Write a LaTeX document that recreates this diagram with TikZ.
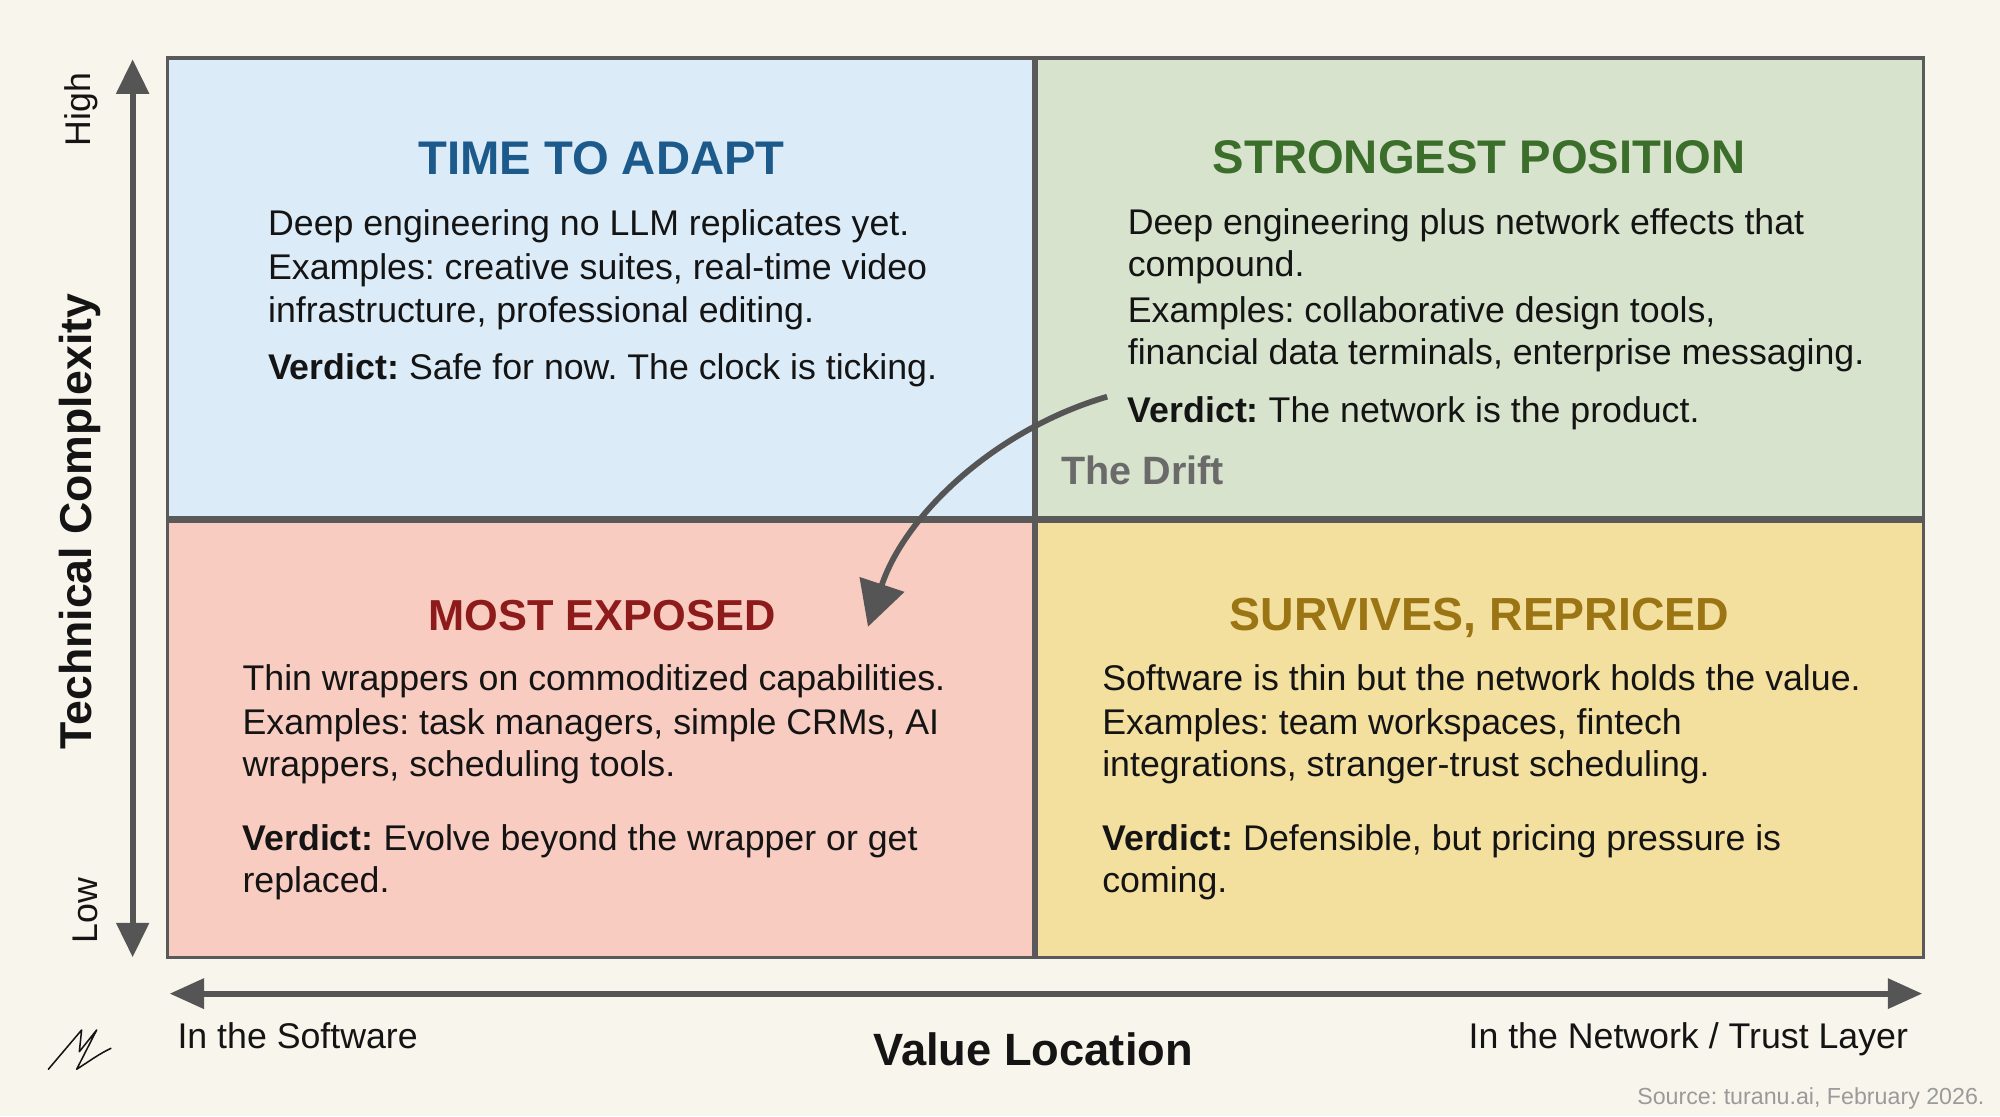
\documentclass[tikz,border=0pt]{standalone}
\usepackage{fontspec}
\setmainfont{Liberation Sans}
\usetikzlibrary{arrows.meta}
\frenchspacing
\definecolor{bgc}{HTML}{F8F6EC}
\definecolor{tlc}{HTML}{DBEBF8}
\definecolor{trc}{HTML}{D7E3CD}
\definecolor{blc}{HTML}{F8CCC1}
\definecolor{brc}{HTML}{F3DF9E}
\definecolor{tblue}{HTML}{1C5A8C}
\definecolor{tgreen}{HTML}{3C6E2B}
\definecolor{tred}{HTML}{8E1B1B}
\definecolor{tgold}{HTML}{9B7413}
\definecolor{axisc}{HTML}{555555}
\definecolor{gridc}{HTML}{5A5A5A}
\definecolor{bodyc}{HTML}{141414}
\definecolor{driftc}{HTML}{6A6A6A}
\definecolor{srcc}{HTML}{9A9A9A}
\begin{document}
\begin{tikzpicture}[x=1pt,y=-1pt,
  body/.style={anchor=base west, inner sep=0pt, text=bodyc, font=\fontsize{28}{34}\selectfont},
  ttl/.style={anchor=base, inner sep=0pt, font=\bfseries\fontsize{37}{44}\selectfont},
  axislabel/.style={inner sep=0pt, text=bodyc, font=\fontsize{28}{34}\selectfont},
  gridthin/.style={draw=gridc, line width=2.5pt},
  gridthick/.style={draw=gridc, line width=5pt},
  axisline/.style={draw=axisc, line width=4.5pt},
  driftarrow/.style={draw=axisc, line width=4.5pt, -{Triangle[length=35pt,width=36pt]}}
]
\useasboundingbox (0,0) rectangle (1568,875);
\fill[bgc] (0,0) rectangle (1568,875);

% quadrants
\fill[tlc] (131.5,45.5) rectangle (811.5,407.2);
\fill[trc] (811.5,45.5) rectangle (1508,407.2);
\fill[blc] (131.5,407.2) rectangle (811.5,750.5);
\fill[brc] (811.5,407.2) rectangle (1508,750.5);
\draw[gridthin] (131.5,45.5) rectangle (1508,750.5);
\draw[gridthick] (811.5,45.5) -- (811.5,750.5);
\draw[gridthick] (131.5,407.2) -- (1508,407.2);

% top-left
\node[ttl, text=tblue] (t1) at (471.5,136.5) {TIME TO ADAPT};
\node[body] (t1a) at (210,185) {Deep engineering no LLM replicates yet.};
\node[body] (t1b) at (210,219.5) {Examples: creative suites, real-time video};
\node[body] (t1c) at (210,253) {infrastructure, professional editing.};
\node[body] (t1d) at (210,297.5) {\textbf{Verdict:} Safe for now. The clock is ticking.};

% top-right
\node[ttl, text=tgreen] (t2) at (1159.5,136) {STRONGEST POSITION};
\node[body] (t2a) at (884,184) {Deep engineering plus network effects that};
\node[body] (t2b) at (884,217) {compound.};
\node[body] (t2c) at (884,253) {Examples: collaborative design tools,};
\node[body] (t2d) at (884,286) {financial data terminals, enterprise messaging.};
\node[body] (t2e) at (884,331) {\textbf{Verdict:} The network is the product.};
\node[anchor=base west, inner sep=0pt, text=driftc, font=\bfseries\fontsize{31}{36}\selectfont] (drift) at (832,380) {The Drift};

% bottom-left
\node[ttl, text=tred, font=\bfseries\fontsize{34}{40}\selectfont] (t3) at (472,494) {MOST EXPOSED};
\node[body] (t3a) at (190,541) {Thin wrappers on commoditized capabilities.};
\node[body] (t3b) at (190,576) {Examples: task managers, simple CRMs, AI};
\node[body] (t3c) at (190,609) {wrappers, scheduling tools.};
\node[body] (t3d) at (190,666.5) {\textbf{Verdict:} Evolve beyond the wrapper or get};
\node[body] (t3e) at (190,700) {replaced.};

% bottom-right
\node[ttl, text=tgold, font=\bfseries\fontsize{36.4}{42}\selectfont] (t4) at (1160,494) {SURVIVES, REPRICED};
\node[body] (t4a) at (864,541) {Software is thin but the network holds the value.};
\node[body] (t4b) at (864,576) {Examples: team workspaces, fintech};
\node[body] (t4c) at (864,609) {integrations, stranger-trust scheduling.};
\node[body] (t4d) at (864,667) {\textbf{Verdict:} Defensible, but pricing pressure is};
\node[body] (t4e) at (864,700) {coming.};

% drift arrow
\coordinate (ds) at (868,311);
\coordinate (de) at (680.5,491.4);
\draw[driftarrow] (ds) .. controls (779.6,336.9) and (709.4,404) .. (de);

% vertical axis
\coordinate (vtop) at (104,46.5);
\coordinate (vbot) at (104,750.5);
\draw[axisline, {Triangle[length=27pt,width=25pt]}-{Triangle[length=27pt,width=25pt]}] (vbot) -- (vtop);
\node[axislabel, rotate=90] (hi) at (64,86) {High};
\node[axislabel, rotate=90] (lo) at (67,714) {Low};
\node[inner sep=0pt, rotate=90, text=bodyc, font=\bfseries\fontsize{35}{40}\selectfont] (tc) at (63,409) {Technical Complexity};

% horizontal axis
\coordinate (hl) at (133,779);
\coordinate (hr) at (1507,779);
\draw[axisline, {Triangle[length=27pt,width=23pt]}-{Triangle[length=27pt,width=23pt]}] (hl) -- (hr);
\node[axislabel, anchor=base west] (sw) at (139,821.7) {In the Software};
\node[anchor=base, inner sep=0pt, text=bodyc, font=\bfseries\fontsize{35.5}{40}\selectfont] (vl) at (810,835.5) {Value Location};
\node[axislabel, anchor=base east] (nw) at (1496,821.7) {In the Network / Trust Layer};
\node[anchor=base east, inner sep=0pt, text=srcc, font=\fontsize{18.2}{22}\selectfont] (src) at (1556,865.6) {Source: turanu.ai, February 2026.};

% signature
\draw[line width=1.2pt, line join=round, line cap=round, bodyc] (37.9,838.3) -- (64,807.5) -- (62.2,824.5) -- (75.8,807.5) -- (60.1,838.3) .. controls (70,832) and (78,826) .. (87,821.9);
\end{tikzpicture}
\end{document}
